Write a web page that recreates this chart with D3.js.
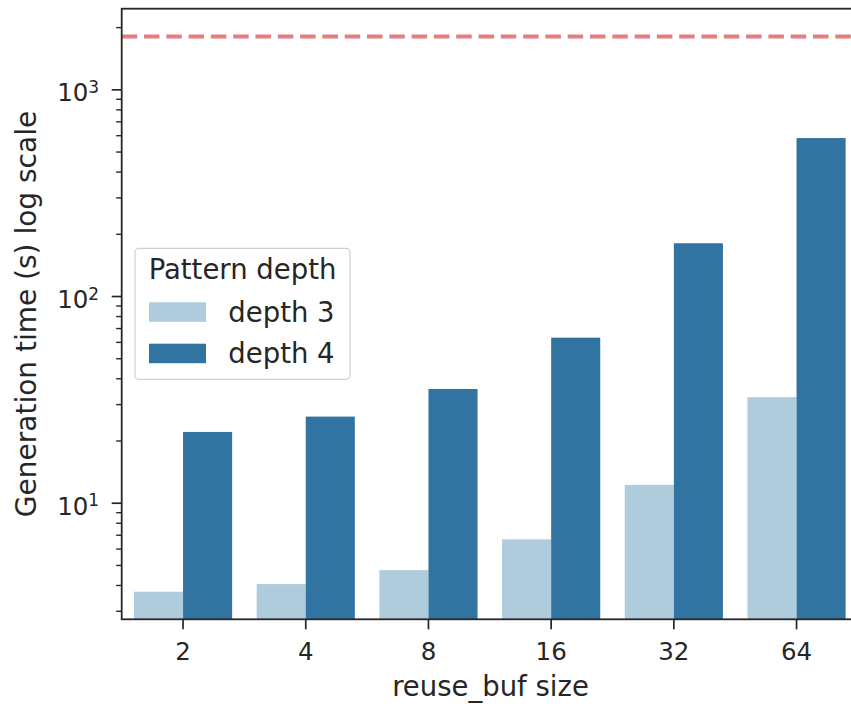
<!DOCTYPE html>
<html>
<head>
<meta charset="utf-8">
<script src="https://cdn.jsdelivr.net/npm/d3@7/dist/d3.min.js"></script>
<style>
  html, body { margin: 0; padding: 0; background: #fff; }
  svg { display: block; }
  text { font-family: "DejaVu Sans", sans-serif; fill: #262626; }
</style>
</head>
<body>
<svg id="chart" width="851" height="706"></svg>
<script>
// ---- data ----
const categories = ["2", "4", "8", "16", "32", "64"];
const seriesNames = ["depth 3", "depth 4"];
const depth3 = [3.71, 4.04, 4.72, 6.65, 12.2, 32.4];
const depth4 = [22.0, 26.1, 35.5, 62.9, 180, 581];
const timeoutValue = 1800;
const yMajorTicks = [10, 100, 1000];
const yTickExponents = ["1", "2", "3"];
const seriesColors = ["#aeccdb", "#3274a1"];
const xLabel = "reuse_buf size";
const yLabel = "Generation time (s) log scale";
const legendTitle = "Pattern depth";

(function () {
const series = [depth3, depth4];

// ---- layout ----
const svg = d3.select("#chart");
const pLeft = 121.7, pTop = 8.7, pBottom = 619.3;
const step = 122.7;
const pRight = pLeft + step * categories.length;

const x = d3.scaleBand().domain(categories).range([pLeft, pRight]).padding(0);
const hue = d3.scaleBand().domain(seriesNames)
  .range([0.1 * x.bandwidth(), 0.9 * x.bandwidth()]).padding(0);
const y = d3.scaleLog().domain([2.729, 2455]).range([pBottom, pTop]);

// bars
const g = svg.append("g");
series.forEach((vals, si) => {
  g.selectAll(null).data(vals).enter().append("rect")
    .attr("x", (d, i) => x(categories[i]) + hue(seriesNames[si]))
    .attr("width", hue.bandwidth())
    .attr("y", d => y(d))
    .attr("height", d => pBottom - y(d))
    .attr("fill", seriesColors[si]);
});

// timeout line
svg.append("line")
  .attr("x1", pLeft).attr("x2", pRight)
  .attr("y1", y(timeoutValue)).attr("y2", y(timeoutValue))
  .attr("stroke", "#d62728").attr("stroke-opacity", 0.6)
  .attr("stroke-width", 4).attr("stroke-dasharray", "15.5,6.8");

// y minor ticks
const minors = [];
[1, 10, 100, 1000].forEach(dec => {
  for (let k = 2; k <= 9; k++) {
    const v = dec * k;
    if (v >= y.domain()[0] && v <= y.domain()[1]) minors.push(v);
  }
});
const yMinorAxis = d3.axisLeft(y).tickValues(minors).tickSize(5.5).tickFormat("");
const gMin = svg.append("g").attr("transform", `translate(${pLeft},0)`).call(yMinorAxis);
gMin.select(".domain").remove();
gMin.selectAll("line").attr("stroke", "#262626").attr("stroke-width", 1.4);

// y major ticks
const yAxis = d3.axisLeft(y).tickValues(yMajorTicks).tickSize(10).tickFormat("");
const gY = svg.append("g").attr("transform", `translate(${pLeft},0)`).call(yAxis);
gY.select(".domain").remove();
gY.selectAll("line").attr("stroke", "#262626").attr("stroke-width", 1.7);
gY.selectAll(".tick").each(function(d, i) {
  const t = d3.select(this).append("text")
    .attr("x", -22.5).attr("y", 11.5)
    .attr("text-anchor", "end")
    .style("font-size", "24.5px");
  t.append("tspan").text("10");
  t.append("tspan").attr("dy", -8.5).style("font-size", "17px").text(yTickExponents[i]);
});

// x axis
const xAxis = d3.axisBottom(x).tickSize(10).tickFormat(d => d);
const gX = svg.append("g").attr("transform", `translate(0,${pBottom})`).call(xAxis);
gX.select(".domain").remove();
gX.selectAll("line").attr("stroke", "#262626").attr("stroke-width", 1.7);
gX.selectAll("text").attr("y", 0).attr("dy", 0)
  .attr("transform", "translate(0,41)")
  .style("font-size", "24.5px").style("font-family", "DejaVu Sans, sans-serif")
  .attr("fill", "#262626");

// spines
svg.append("rect")
  .attr("x", pLeft).attr("y", pTop)
  .attr("width", pRight - pLeft).attr("height", pBottom - pTop)
  .attr("fill", "none").attr("stroke", "#262626").attr("stroke-width", 1.8);

// axis labels
svg.append("text").attr("x", 490.5).attr("y", 696)
  .attr("text-anchor", "middle").style("font-size", "27.5px").text(xLabel);
svg.append("text")
  .attr("transform", `translate(35.5,${(pTop + pBottom) / 2}) rotate(-90)`)
  .attr("text-anchor", "middle").style("font-size", "28px").text(yLabel);

// legend
const lg = svg.append("g");
lg.append("rect").attr("x", 135).attr("y", 248.3).attr("width", 215).attr("height", 131)
  .attr("rx", 4).attr("fill", "#fff").attr("fill-opacity", 0.8)
  .attr("stroke", "#d0d0d0").attr("stroke-width", 1.2);
lg.append("text").attr("x", 242.5).attr("y", 279.3).attr("text-anchor", "middle")
  .style("font-size", "27.5px").text(legendTitle);
const legRows = [302.3, 343.7];
seriesNames.forEach((name, i) => {
  lg.append("rect").attr("x", 149).attr("y", legRows[i]).attr("width", 57).attr("height", 19.5)
    .attr("fill", seriesColors[i]);
  lg.append("text").attr("x", 228.3).attr("y", legRows[i] + 19.5)
    .style("font-size", "27.5px").text(name);
});
})();
</script>
</body>
</html>
